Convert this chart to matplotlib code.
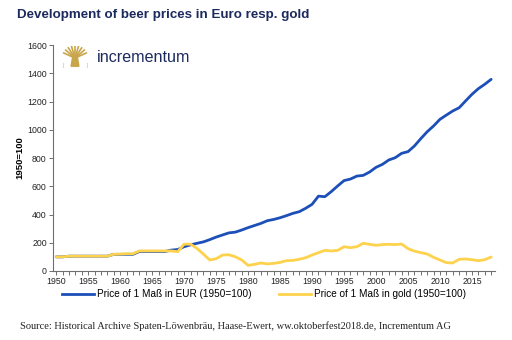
import numpy as np
import matplotlib
matplotlib.use('Agg')
import matplotlib.pyplot as plt
from matplotlib.lines import Line2D

TITLE = 'Development of beer prices in Euro resp. gold'
Y_LABEL = '1950=100'
SOURCE = ('Source: Historical Archive Spaten-Löwenbräu, Haase-Ewert, '
          'ww.oktoberfest2018.de, Incrementum AG')
LABEL_EUR = 'Price of 1 Maß in EUR (1950=100)'
LABEL_GOLD = 'Price of 1 Maß in gold (1950=100)'

years = list(range(1950, 2019))

# price index of one Maß in EUR, 1950 = 100
price_eur = [
    100, 100, 105, 105, 105, 105, 105, 105, 105, 118,   # 1950-1959
    118, 118, 118, 138, 138, 138, 138, 138, 148, 152,   # 1960-1969
    172, 185, 196, 206, 222, 240, 255, 270, 275, 290,   # 1970-1979
    307, 322, 337, 356, 365, 377, 392, 408, 420, 444,   # 1980-1989
    472, 530, 526, 562, 602, 640, 651, 672, 677, 701,   # 1990-1999
    734, 755, 786, 802, 833, 845, 885, 937, 986, 1027,  # 2000-2009
    1074, 1104, 1133, 1156, 1204, 1251, 1291, 1322, 1357,  # 2010-2018
]

# price index of one Maß in gold, 1950 = 100
price_gold = [
    100, 100, 105, 105, 105, 105, 105, 105, 105, 118,   # 1950-1959
    120, 122, 122, 142, 142, 142, 142, 142, 142, 137,   # 1960-1969
    190, 190, 160, 120, 78, 87, 113, 115, 101, 78,      # 1970-1979
    40, 47, 57, 50, 54, 61, 73, 75, 83, 94,             # 1980-1989
    113, 130, 146, 142, 146, 172, 165, 172, 196, 189,   # 1990-1999
    182, 187, 189, 187, 191, 158, 141, 130, 120, 97,    # 2000-2009
    78, 59, 57, 83, 85, 80, 73, 80, 99,                 # 2010-2018
]

BLUE = '#1d4fb8'
GOLD = '#fdd24c'
NAVY = '#1c2a5e'
GREY = '#6f6f6f'

plt.rcParams['font.family'] = ['Liberation Sans', 'DejaVu Sans']

fig = plt.figure(figsize=(5.12, 3.40), dpi=100)
ax = fig.add_axes([53 / 512, 1 - 271 / 340, 442 / 512, 226 / 340])

ax.plot(years, price_eur, color=BLUE, linewidth=2.0, solid_capstyle='round')
ax.plot(years, price_gold, color=GOLD, linewidth=2.0, solid_capstyle='round')

ax.set_xlim(1949.5, 2018.6)
ax.set_ylim(0, 1600)
ax.set_yticks(np.arange(0, 1601, 200))
ax.set_xticks(np.arange(1950, 2016, 5))
ax.set_xticks(np.arange(1950, 2019, 1), minor=True)

for side in ['top', 'right']:
    ax.spines[side].set_visible(False)
for side in ['left', 'bottom']:
    ax.spines[side].set_color(GREY)
    ax.spines[side].set_linewidth(0.8)

ax.tick_params(axis='both', labelsize=6.3, colors=GREY, labelcolor='#222222',
               length=3, width=0.7, pad=1.5)
ax.tick_params(axis='x', which='minor', length=3, width=0.7, colors=GREY)
ax.set_ylabel(Y_LABEL, fontsize=6.8, fontweight='bold', labelpad=2)

fig.text(17 / 512, 1 - 15 / 340, TITLE, fontsize=9.6, fontweight='bold',
         color=NAVY, va='center', ha='left')

# logo: small golden tree next to the company name
logo = fig.add_axes([62 / 512, 1 - 68 / 340, 26 / 512, 22 / 340])
logo.set_xlim(-1, 1)
logo.set_ylim(0, 1)
logo.axis('off')
for ang in np.linspace(25, 155, 9):
    r = np.deg2rad(ang)
    logo.plot([0, 0.95 * np.cos(r)], [0.45, 0.45 + 0.55 * np.sin(r)],
              color='#c9a54a', linewidth=1.2)
logo.fill([-0.18, 0.18, 0.3, -0.3], [0.5, 0.5, 0.08, 0.08], color='#c9a54a')
logo.plot([-0.9, -0.9, 0.9, 0.9], [0.25, 0.02, 0.02, 0.25], color='#d9d9d9',
          linewidth=0.8)
fig.text(97 / 512, 1 - 58 / 340, 'incrementum', fontsize=11.6, color=NAVY,
         va='center', ha='left')

handles = [Line2D([0], [0], color=BLUE, linewidth=2.0),
           Line2D([0], [0], color=GOLD, linewidth=2.0)]
fig.legend(handles, [LABEL_EUR, LABEL_GOLD], loc='center',
           bbox_to_anchor=(264 / 512, 1 - 294 / 340), ncol=2, frameon=False,
           fontsize=7.2, handlelength=3.2, handletextpad=0.3,
           columnspacing=2.8)

fig.text(20 / 512, 1 - 326 / 340, SOURCE, fontsize=7.5, color='#222222',
         family=['Liberation Serif', 'DejaVu Serif'], va='center', ha='left')

fig.savefig('out.png', dpi=100)
